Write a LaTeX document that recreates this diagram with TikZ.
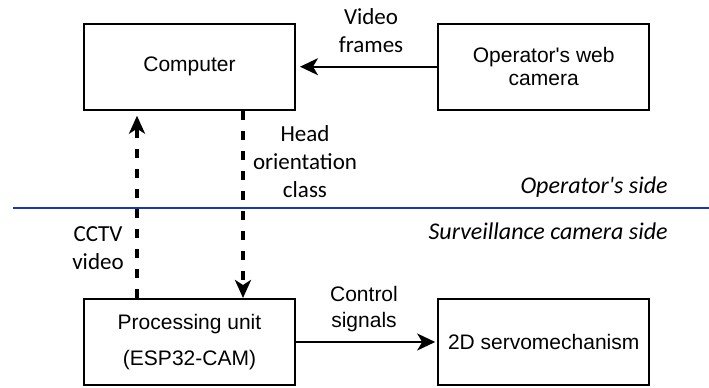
\documentclass[tikz,border=0pt]{standalone}
\usepackage{fontspec}
\setmainfont{Liberation Sans}
\newfontfamily\labelfont{Carlito}
\usetikzlibrary{arrows.meta}
\definecolor{sepblue}{RGB}{25,50,200}

\begin{document}
\begin{tikzpicture}[x=0.5pt,y=-0.5pt,
  block/.style={draw,line width=1pt,minimum width=105.5pt,minimum height=43pt,
    inner sep=0pt,align=center,font=\fontsize{10.5}{11.5}\selectfont},
  flow/.style={line width=1pt,-{Stealth[length=9pt,width=8.5pt,inset=2.5pt]}},
  link/.style={line width=2pt,dash pattern=on 4.5pt off 5.5pt,
    -{Stealth[length=9pt,width=8pt,inset=2.5pt]}},
  note/.style={inner sep=0pt,align=center,font=\labelfont\fontsize{11.5}{14}\selectfont},
  side/.style={inner sep=0pt,anchor=east,font=\labelfont\itshape\fontsize{12}{14}\selectfont}]
\useasboundingbox (0,0) rectangle (709,387);

% blocks
\node[block] (comp)  at (189.5,66.7) {Computer};
\node[block] (cam)   at (543.7,66.7) {Operator\textquotesingle s web\\camera};
\node[block,font=\fontsize{10.5}{18}\selectfont] (proc) at (189.5,342) {Processing unit\\(ESP32-CAM)};
\node[block] (servo) at (543.7,342) {2D servomechanism};

% boundary between the two sides
\coordinate (sepL) at (13,208);
\coordinate (sepR) at (709,208);
\draw[sepblue,line width=0.75pt] (sepL) -- (sepR);
\node[side] (ops) at (668,187) {Operator\textquotesingle s side};
\node[side] (svs) at (668,231) {Surveillance camera side};

% connectors
\coordinate (upx) at (137,0);
\coordinate (downx) at (243,0);
\draw[link,shorten >=2.5pt] (proc.north -| upx) -- (comp.south -| upx);
\draw[link] (comp.south -| downx) -- (proc.north -| downx);
\draw[flow,shorten >=2pt] (cam.west) -- (comp.east);
\draw[flow,shorten >=1pt] (proc.east) -- (servo.west);

% connector labels
\node[note] (vf)   at (371,31)    {Video\\frames};
\node[note] (hoc)  at (305,161.5) {Head\\orientation\\class};
\node[note] (cctv) at (98,248)    {CCTV\\video};
\node[note,font=\fontsize{10.5}{13}\selectfont] (cs) at (364,309) {Control\\signals};
\end{tikzpicture}
\end{document}
